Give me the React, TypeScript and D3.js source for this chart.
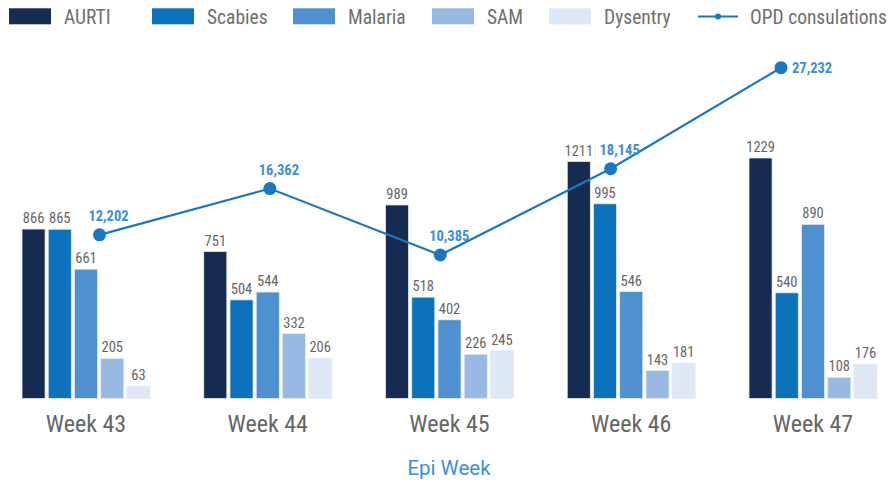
import React from 'react';
import * as d3 from 'd3';

const weeks = ['Week 43', 'Week 44', 'Week 45', 'Week 46', 'Week 47'];
const seriesNames = ['AURTI', 'Scabies', 'Malaria', 'SAM', 'Dysentry'];
const aurti = [866, 751, 989, 1211, 1229];
const scabies = [865, 504, 518, 995, 540];
const malaria = [661, 544, 402, 546, 890];
const sam = [205, 332, 226, 143, 108];
const dysentry = [63, 206, 245, 181, 176];
const opd = [12202, 16362, 10385, 18145, 27232];
const lineName = 'OPD consulations';
const axisTitle = 'Epi Week';

const seriesValues = [aurti, scabies, malaria, sam, dysentry];
const colors = ['#152c50', '#0b72bb', '#4e90d0', '#98b9e1', '#dfe8f5'];
const lineColor = '#1a78c2';
const labelBlue = '#3d8fd8';
const gray = '#666666';
const condensed = '"Roboto Condensed", "Liberation Sans Narrow", "DejaVu Sans Condensed", Roboto, sans-serif';
const legendX = [9, 152, 293, 432, 549, 698];

export default function App() {
  const W = 888;
  const H = 485;
  const baseline = 398.5;

  const x0 = d3.scalePoint<string>().domain(weeks).range([86, 813]);
  const x1 = d3.scaleBand<string>().domain(seriesNames).range([-64, 64]).paddingInner(0.12);
  const y = d3.scaleLinear().domain([0, 1300]).range([baseline, baseline - 254.4]);

  const xl = d3.scalePoint<string>().domain(weeks).range([99.5, 781]);
  const y2 = d3.scaleLinear().domain([0, 30000]).range([370.5, 36.9]);
  const line = d3.line<number>()
    .x((d, i) => xl(weeks[i]) as number)
    .y(d => y2(d));

  return (
    <svg width={W} height={H} style={{ position: 'absolute', left: 0, top: 0 }}>
      <rect width={W} height={H} fill="#fff" />
      {/* legend */}
      <g>
        {seriesNames.map((s, i) => (
          <g key={s} transform={`translate(${legendX[i]},0)`}>
            <rect x={0} y={8.3} width={42} height={16} fill={colors[i]} />
            <text x={55} y={24} fontFamily={condensed} fontSize={19.5} fill="#6f6f6f">{s}</text>
          </g>
        ))}
        <g transform={`translate(${legendX[5]},0)`}>
          <line x1={0} x2={40} y1={16.5} y2={16.5} stroke={lineColor} strokeWidth={2} />
          <circle cx={20} cy={16.5} r={3} fill={lineColor} />
          <text x={52} y={24} fontFamily={condensed} fontSize={19.5} fill="#6f6f6f">{lineName}</text>
        </g>
      </g>

      {/* bars */}
      {weeks.map((w, wi) => (
        <g key={w} transform={`translate(${x0(w)},0)`}>
          {seriesNames.map((s, si) => {
            const v = seriesValues[si][wi];
            const bx = x1(s) as number;
            return (
              <g key={s}>
                <rect x={bx} y={y(v)} width={x1.bandwidth()} height={baseline - y(v)}
                  fill={colors[si]} stroke="#e6ebf2" strokeWidth={0.8} />
                <text x={bx + x1.bandwidth() / 2} y={y(v) - 6} textAnchor="middle"
                  fontFamily={condensed} fontSize={14.5} fill={gray}>{v}</text>
              </g>
            );
          })}
          <text x={0} y={432} textAnchor="middle" fontFamily={condensed} fontSize={24} fill={gray}>{w}</text>
        </g>
      ))}

      <text x={449} y={475} textAnchor="middle" fontFamily="Roboto, sans-serif" fontSize={20.5} fill={labelBlue}>{axisTitle}</text>

      {/* line */}
      <path d={line(opd) as string} fill="none" stroke={lineColor} strokeWidth={2.2} />
      {opd.map((v, i) => {
        const cx = xl(weeks[i]) as number;
        const cy = y2(v);
        const last = i === opd.length - 1;
        return (
          <g key={i}>
            <circle cx={cx} cy={cy} r={6.5} fill={lineColor} />
            <text x={last ? cx + 11 : cx + 9} y={last ? cy + 5 : cy - 14}
              textAnchor={last ? 'start' : 'middle'}
              fontFamily={condensed} fontSize={14.5} fontWeight="bold" fill={labelBlue}>
              {d3.format(',')(v)}
            </text>
          </g>
        );
      })}
    </svg>
  );
}
